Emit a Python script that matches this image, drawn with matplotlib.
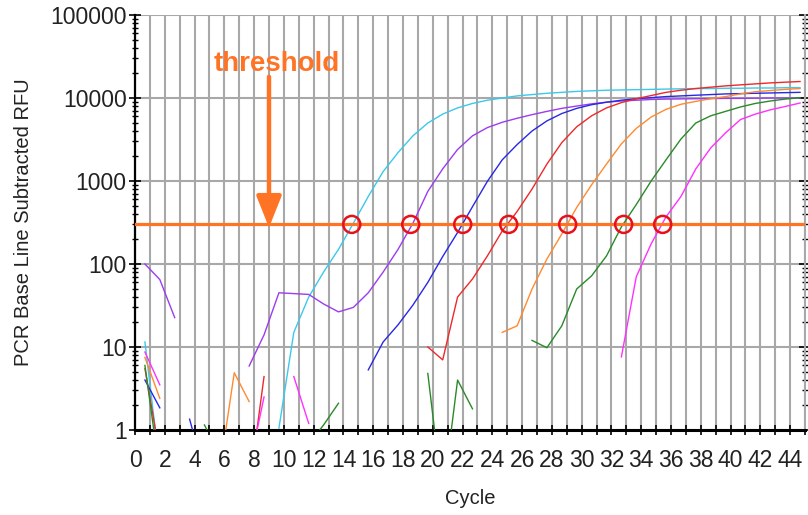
import numpy as np
import matplotlib
matplotlib.use("Agg")
import matplotlib.pyplot as plt
from matplotlib.ticker import MultipleLocator, LogLocator, NullFormatter

nan = np.nan

# cycle index of each reading
cycles = np.arange(1, 46)

# amplification curves (RFU), nan = reading not shown
cyan = [11.5, 0.35, nan, nan, nan, nan, nan, nan, nan, 1.05,
        15, 40, 80, 150, 310, 650, 1300, 2200, 3500, 5000,
        6400, 7600, 8600, 9400, 10000, 10600, 11000, 11400, 11700, 12000,
        12200, 12400, 12500, 12600, 12700, 12800, 12900, 13000, 13000, 13100,
        13100, 13200, 13200, 13300, 13300]
purple = [100, 65, 22.6, nan, nan, nan, nan, 5.9, 14, 45,
          44, 43, 33, 26.5, 30, 45, 80, 150, 310, 750,
          1400, 2400, 3500, 4400, 5100, 5700, 6300, 6900, 7500, 8000,
          8500, 8900, 9200, 9400, 9600, 9700, 9750, 9800, 9850, 9900,
          9900, 9950, 10000, 10000, 10000]
blue = [4, 1.85, nan, 1.35, 0.3, nan, nan, nan, nan, nan,
        nan, nan, nan, nan, nan, 5.3, 11.5, 18.5, 32, 60,
        123, 240, 490, 990, 1800, 2750, 4000, 5300, 6500, 7500,
        8300, 8900, 9400, 9800, 10100, 10400, 10600, 10800, 11000, 11200,
        11300, 11400, 11500, 11600, 11700]
red = [5.5, 0.5, nan, nan, nan, nan, nan, 0.2, 4.4, nan,
       nan, nan, nan, nan, nan, nan, nan, nan, nan, 10,
       7, 40, 66, 125, 250, 430, 800, 1600, 2900, 4500,
       6100, 7600, 8800, 9800, 10700, 11700, 12400, 13000, 13500, 14000,
       14400, 14800, 15200, 15500, 15800]
orange = [7.5, 2.4, nan, nan, nan, 0.3, 4.9, 2.2, nan, nan,
          nan, nan, nan, nan, nan, nan, nan, nan, nan, nan,
          nan, nan, nan, nan, 15, 18, 50, 115, 230, 480,
          900, 1600, 2800, 4300, 5900, 7300, 8400, 9100, 9800, 10400,
          11200, 11900, 12300, 12700, 13000]
green = [6, 0.3, nan, nan, 1.15, 0.5, nan, nan, nan, nan,
         nan, 0.68, 1.15, 2.1, nan, nan, nan, nan, nan, 4.8,
         0.15, 4.0, 1.8, nan, nan, nan, 12, 9.8, 18, 50,
         72, 125, 280, 520, 1000, 1800, 3200, 5000, 6100, 6900,
         7800, 8600, 9200, 9700, 10100]
magenta = [8.7, 3.5, nan, nan, nan, nan, nan, 0.35, 2.5, nan,
           4.4, 1.2, nan, nan, nan, nan, nan, nan, nan, nan,
           nan, nan, nan, nan, nan, nan, nan, nan, nan, nan,
           nan, nan, 7.6, 70, 175, 370, 650, 1400, 2500, 3800,
           5500, 6400, 7200, 7900, 8700]

threshold = 300
# threshold crossing cycles (Cq)
cq = [14.56, 18.52, 22.01, 25.10, 29.06, 32.82, 35.44]

series = [
    (cyan, "#3cc8ec"),
    (purple, "#9b3cf0"),
    (blue, "#2828e6"),
    (red, "#f02828"),
    (orange, "#ff8a30"),
    (green, "#2a8a2a"),
    (magenta, "#ff30ff"),
]

plt.rcParams["font.family"] = ["Liberation Sans", "DejaVu Sans"]

fig = plt.figure(figsize=(8.08, 5.15), dpi=100)
ax = fig.add_axes([135 / 808, 1 - 430 / 515, 670 / 808, 415 / 515])

# readings sit a third of a cycle left of the tick in this software's plot
x_shift = -1 / 3
for vals, col in series:
    ax.plot(cycles + x_shift, vals, color=col, lw=1.0, zorder=3)

ax.set_yscale("log", nonpositive="clip")
ax.set_ylim(1, 100000)
ax.set_xlim(0, 45)

thr_col = "#ff7324"
ax.axhline(threshold, color=thr_col, lw=2.3, zorder=4)
ax.scatter(cq, [threshold] * len(cq), s=150, facecolors="none",
           edgecolors="#e8101a", linewidths=1.8, zorder=5)

ax.annotate("", xy=(9, 275), xytext=(9, 18000),
            arrowprops=dict(arrowstyle="-|>,head_width=0.38,head_length=0.95",
                            color=thr_col, lw=3.2, mutation_scale=20,
                            shrinkA=0, shrinkB=0), zorder=6)
ax.text(9.55, 26000, "threshold", color=thr_col, fontsize=20,
        fontweight="bold", ha="center", va="center", zorder=6)

# axes and grid
ax.xaxis.set_major_locator(MultipleLocator(2))
ax.xaxis.set_minor_locator(MultipleLocator(1))
ax.yaxis.set_major_locator(LogLocator(base=10, numticks=10))
ax.yaxis.set_minor_locator(LogLocator(base=10, subs=np.arange(2, 10), numticks=20))
ax.yaxis.set_minor_formatter(NullFormatter())
ax.yaxis.set_major_formatter(matplotlib.ticker.FuncFormatter(lambda v, p: f"{int(round(v))}"))

grid_col = "#a8a8a8"
ax.grid(True, which="both", axis="x", color=grid_col, lw=1.5, zorder=1)
ax.grid(True, which="major", axis="y", color=grid_col, lw=1.5, zorder=1)
ax.set_axisbelow(True)

ax.tick_params(axis="x", which="both", direction="inout", length=7, width=1.2,
               color="black", labelsize=16.5, pad=10, labelcolor="#222222")
ax.tick_params(axis="y", which="major", direction="inout", length=8, width=1.2,
               color="black", labelsize=16.5, pad=2, labelcolor="#222222",
               right=True)
ax.tick_params(axis="y", which="minor", direction="inout", length=5, width=1.0,
               color="black", right=True)

ax.spines["top"].set_visible(False)
ax.spines["right"].set_color(grid_col)
ax.spines["right"].set_linewidth(1.5)
ax.spines["left"].set_linewidth(1.6)
ax.spines["bottom"].set_linewidth(2.2)

ax.set_xlabel("Cycle", fontsize=14.5, color="#222222")
ax.set_ylabel("PCR Base Line Subtracted RFU", fontsize=14.5, color="#222222")
ax.xaxis.set_label_coords(0.5, -0.143)
ax.yaxis.set_label_coords(-0.152, 0.5)

fig.savefig("out.png", dpi=100)
